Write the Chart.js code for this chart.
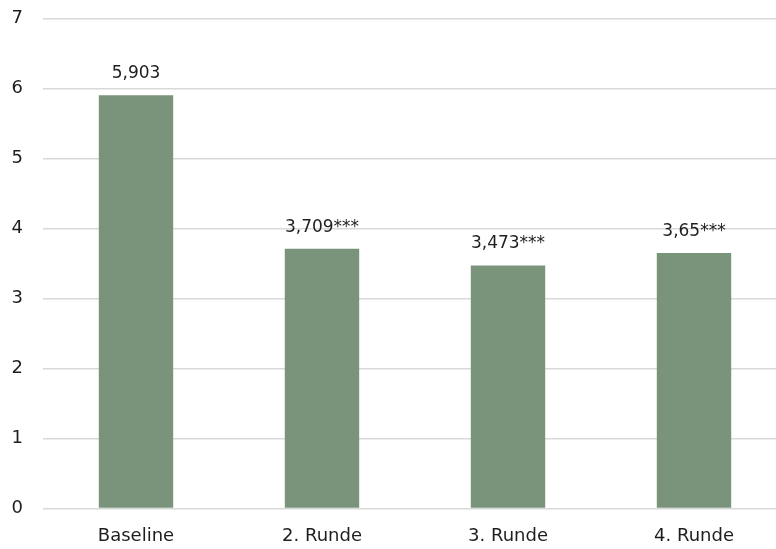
<!DOCTYPE html>
<html><head><meta charset="utf-8">
<script src="https://cdn.jsdelivr.net/npm/chart.js@4/dist/chart.umd.min.js"></script>
<style>html,body{margin:0;padding:0;overflow:hidden;background:#fff;width:776px;height:549px}#wrap{width:787px;height:549px}</style>
</head><body><div id="wrap"><canvas id="c" width="787" height="549"></canvas></div>
<script>
const categories = ["Baseline", "2. Runde", "3. Runde", "4. Runde"];
const values = [5.903, 3.709, 3.473, 3.65];
const valueLabels = ["5,903", "3,709***", "3,473***", "3,65***"];
const yTicks = [0, 1, 2, 3, 4, 5, 6, 7];

const FONT = "'DejaVu Sans', sans-serif";

const labelPlugin = {
  id: 'valueLabels',
  afterDatasetsDraw(chart) {
    const ctx = chart.ctx;
    const meta = chart.getDatasetMeta(0);
    ctx.save();
    ctx.font = "17px " + FONT;
    ctx.fillStyle = '#1e1e1e';
    ctx.textAlign = 'center';
    ctx.textBaseline = 'alphabetic';
    meta.data.forEach((bar, i) => {
      ctx.fillText(valueLabels[i], bar.x, bar.y - 17);
    });
    ctx.restore();
  }
};

new Chart(document.getElementById('c'), {
  type: 'bar',
  data: {
    labels: categories,
    datasets: [{
      data: values,
      backgroundColor: '#7a947b',
      borderWidth: 0,
      barPercentage: 0.4,
      categoryPercentage: 1.0
    }]
  },
  options: {
    responsive: false,
    animation: false,
    layout: { padding: { top: 18.5, bottom: 0, left: 0, right: 0 } },
    plugins: { legend: { display: false }, tooltip: { enabled: false } },
    scales: {
      x: {
        grid: { display: false },
        border: { display: false },
        ticks: { color: '#1e1e1e', font: { family: FONT, size: 18 }, padding: 9 },
        afterFit(axis) { axis.height = 40.5; axis.paddingLeft = 0; axis.paddingRight = 0; }
      },
      y: {
        min: 0, max: 7,
        afterBuildTicks(axis) { axis.ticks = yTicks.map(v => ({ value: v })); },
        grid: { color: '#d9d9d9', lineWidth: 1.5, drawTicks: false },
        border: { display: false },
        ticks: { color: '#1e1e1e', font: { family: FONT, size: 18 }, padding: 20 },
        afterFit(axis) { axis.width = 43; axis.paddingTop = 0; axis.paddingBottom = 0; }
      }
    }
  },
  plugins: [labelPlugin]
});
</script></body></html>
